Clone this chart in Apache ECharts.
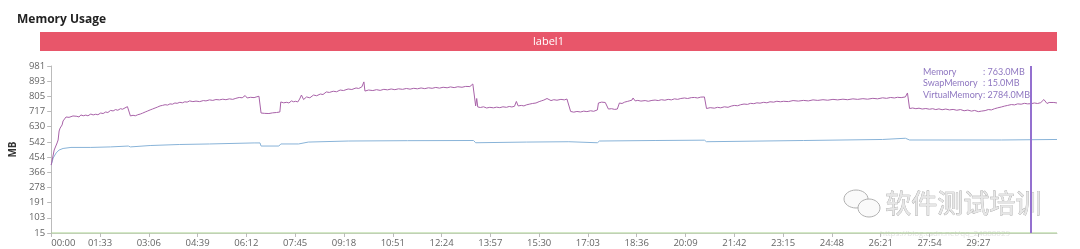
<!DOCTYPE html>
<html>
<head>
<meta charset="utf-8">
<script src="https://cdn.jsdelivr.net/npm/echarts@6/dist/echarts.min.js"></script>
<style>
html,body{margin:0;padding:0;background:#fff;}
#c{width:1080px;height:249px;}
</style>
</head>
<body>
<div id="c"></div>
<script>
// ---- data (time in seconds, values in MB) ----
var xTicks = [0,93,186,279,372,465,558,651,744,837,930,1023,1116,1209,1302,1395,1488,1581,1674,1767];
var yTicks = [15,103,191,278,366,454,542,630,717,805,893,981];
var xMax = 1917;

var memoryData = [
[0,408],[1.9,437],[5.7,495],[7.5,484],[11.3,536],[13.2,553],[15.1,605],[17,622],[20.8,640],[22.6,663],
[24.5,674],[28.3,686],[31,681],[34,684],[37,679],[41.5,692],[45,688],[49,690],[53,686],[56.6,698],[61,693],
[66,697],[70,693],[75.5,703],[80,698],[84.9,702],[89,699],[94.3,709],[99,706],
[103.8,715],[108,712],[113.2,724],[118,721],[122.6,729],[127,725],[132,734],[136,731],[139.6,737],[145.3,746],[149,741],[151,692],[156,696],[160.3,693],
[165,699],[169.8,703],[174,708],[179.2,715],[184,721],[188.6,727],[193,732],[198,738],[203,744],[207.5,750],[212,753],[217,757],[222,755],[226.4,762],[231,760],[235.8,767],[240,765],[245.2,771],
[250,768],[254.7,774],[259,772],[264,779],[270,775],[276,778],[283,775],[290,781],[295,779],[301.8,785],[308,782],[314,787],[320.7,785],[327,789],[333,786],[339.6,791],[346,788],[352,794],[358.4,799],[364,797],[369.7,810],[373.5,796],
[380,800],[386.7,798],[392,803],[396,806],[398,802],[400,709],[407,707],[415,706],[422,710],[429.5,712],[435.8,715],[437.6,773],[443,768],[449,771],
[453,767],[458,779],[462,774],[466,777],[470,773],[473.5,790],[477,813],[481,787],[486.7,802],[493,797],[500,813],[506,809],[513,819],[518,816],[524.4,831],[530,828],
[537.6,835],[544,832],[550.8,842],[557,839],[566,848],[573,845],[581,854],[586,851],[592,860],[596,889],[598,836],[605,842],[613,839],[620,844],[627,840],[634,846],[641,843],[648,848],[655,844],[662,849],
[669.7,846],[677,851],[684,847],[691,852],[698,849],[705,854],[712,850],[719,855],[726,852],[733,857],[740,853],[747,858],[754.6,855],[761,860],[768,856],[775,861],[783,858],[790,863],[798,862],[803.6,877],[807,871],[809,750],
[811,793],[813,744],[818,741],[824,745],[830,738],[836,742],[843,739],[849,743],[855,740],[861,745],[867.7,742],[873,747],[878,744],[883,748],[886.6,776],[890,750],[896,753],[901,750],[905.5,756],
[911,760],[917,764],[924,767],[930,775],[935,780],[939,784],[945,793],[952.6,781],[958,786],[964,783],[971.5,788],[978,785],[983,790],[986.6,791],[990,718],[996,714],[1002,718],[1009,715],[1015,720],[1021,717],[1028,722],
[1034,719],[1041,727],[1043,767],[1049,772],[1056,770],[1059,765],[1062,732],[1068,734],[1074,730],[1079,732],[1083,767],[1088,764],[1093,772],[1098,776],[1103,780],[1107,784],[1109,796],
[1113,779],[1118,782],[1124,778],[1132,781],[1138,777],[1145,782],[1151,784],[1157,781],[1163,786],[1169.6,783],[1176,788],[1182,785],[1188,791],[1194,788],[1200,793],[1207,796],[1213,793],[1220,798],[1226,799],[1232,796],[1238,801],[1245,802],[1247,808],
[1249,735],[1256,740],[1264,737],[1270,742],[1276,739],[1283,745],[1290,742],[1296,749],[1302,753],[1308,751],[1314,757],[1320.5,761],[1327,759],[1333,765],[1339,763],[1345,768],[1351,766],[1358,771],[1364,768],[1370,774],[1377,772],[1383,777],[1390,774],[1396,777],
[1405,775],[1414,781],[1424,778],[1433.7,782],[1443,779],[1452,785],[1461,782],[1471,786],[1480,783],[1490,788],[1499,785],[1509,789],[1518,786],[1528,791],[1537,788],[1547,792],[1556,789],[1566,794],[1575,791],[1584.6,797],[1592,794],[1600,799],[1607,796],[1613,800],[1620,798],[1628,802],[1632,825],[1636,735],
[1642,738],[1648,734],[1654,737],[1660,732],[1667,735],[1674,731],[1680,734],[1686,729],[1692,733],[1698,728],[1705,732],[1712,727],[1719,730],[1726,725],[1733,729],[1740,722],[1747,726],[1754,720],[1760,724],[1767,717],[1773,720],[1780,723],[1786,729],[1792,727],[1798,734],[1804,739],[1811,744],[1817,749],[1823,753],[1830,758],[1836,756],[1842,762],[1848.7,760],
[1855,765],[1861,762],[1867.5,763],[1874,767],[1880,764],[1886,769],[1892,787],[1898,764],[1902,770],[1905,775],[1911,770],[1917,767]
];

var realData = [
[0,408],[3.8,449],[9.4,478],[15,495],[22.6,504],[37.7,510],[75.5,510],[113,513],[147,518],[151,513],
[188.6,521],[245,527],[302,530],[386.7,536],[398,536],[400,518],[434,518],[437.6,530],[471.6,530],
[490,541],[566,547],[679,549],[805,550],[809,537],[905.5,541],[986.6,543],[990,537],[1041,537],
[1045,547],[1151,550],[1245,552],[1249,543],[1434,550],[1584.6,556],[1628,563],[1636,553],[1811,553],
[1917,556]
];

var swapData = [[0,15],[1917,15]];

var cursorTime = 1867.5;
var tipNames = ['Memory','SwapMemory','VirtualMemory'];
var tipValues = [763.0, 15.0, 2784.0];

function fmtTime(v){
  var m = Math.floor(v/60), s = Math.round(v%60);
  return (m<10?'0':'')+m+':'+(s<10?'0':'')+s;
}

var chart = echarts.init(document.getElementById('c'));
var tipTextNames = tipNames.join('\n');
var tipTextVals = tipValues.map(function(v){return ': '+v.toFixed(1)+'MB';}).join('\n');

chart.setOption({
  animation:false,
  title:{text:'Memory Usage',left:12,top:9,textStyle:{fontFamily:'Open Sans',fontSize:12,fontWeight:'bold',color:'#222'}},
  grid:{left:40,right:23,top:66,bottom:16},
  xAxis:{
    type:'value',min:0,max:xMax,
    axisLine:{lineStyle:{color:'#c8cfc0'}},
    axisTick:{show:true,length:4,lineStyle:{color:'#bbb'},customValues:xTicks},
    axisLabel:{customValues:xTicks,formatter:fmtTime,color:'#666',fontSize:9.5,fontFamily:'Open Sans',margin:5,alignMinLabel:'left'},
    splitLine:{show:false}
  },
  yAxis:{
    type:'value',min:15,max:981,
    name:'MB',nameLocation:'middle',nameGap:29,nameRotate:90,
    nameTextStyle:{fontFamily:'Open Sans',fontWeight:'bold',fontSize:10,color:'#333'},
    axisLine:{show:true,lineStyle:{color:'#bbb'}},
    axisTick:{show:true,length:4,lineStyle:{color:'#bbb'},customValues:yTicks},
    axisLabel:{customValues:yTicks,color:'#666',fontSize:9.5,fontFamily:'Open Sans',margin:6},
    splitLine:{show:false}
  },
  series:[
    {name:'RealMemory',type:'line',data:realData,showSymbol:false,lineStyle:{color:'#88b3d8',width:1},itemStyle:{color:'#88b3d8'}},
    {name:'SwapMemory',type:'line',data:swapData,showSymbol:false,lineStyle:{color:'#a8d28e',width:1.2},itemStyle:{color:'#a8d28e'}},
    {name:'Memory',type:'line',data:memoryData,showSymbol:false,lineStyle:{color:'#a862a8',width:1},itemStyle:{color:'#a862a8'},
     markLine:{silent:true,symbol:'none',label:{show:false},lineStyle:{color:'#9470cf',width:2,type:'solid'},data:[{xAxis:cursorTime}]}}
  ],
  graphic:[
    {type:'rect',shape:{x:40,y:32,width:1017,height:19},style:{fill:'#e8566a'},
     textContent:{style:{text:'label1',fill:'#fff',fontSize:11,fontFamily:'Open Sans'}},textConfig:{position:'inside'}},
    {type:'text',left:923,top:66,style:{text:tipTextNames,fill:'#8e76c0',fontSize:9,lineHeight:11.5,fontFamily:'Lato'}},
    {type:'text',left:983,top:66,style:{text:tipTextVals,fill:'#8e76c0',fontSize:9,lineHeight:11.5,fontFamily:'Lato'}},
    {type:'ellipse',shape:{cx:856,cy:199,rx:12,ry:9},style:{fill:'#fafafa',stroke:'#b0b0b0',lineWidth:1}},
    {type:'ellipse',shape:{cx:869,cy:208,rx:11,ry:9},style:{fill:'#fafafa',stroke:'#b0b0b0',lineWidth:1}},
    {type:'text',left:885,top:190,style:{text:'软件测试培训',fill:'#e6e6e6',stroke:'#9a9a9a',lineWidth:0.6,fontSize:26,fontFamily:'Noto Sans CJK SC'}},
    {type:'text',left:880,top:230,style:{text:'https://blog.csdn.net/qq_24888029',fill:'#e2e2e2',fontSize:8,fontFamily:'Open Sans'}}
  ]
});
</script>
</body>
</html>
